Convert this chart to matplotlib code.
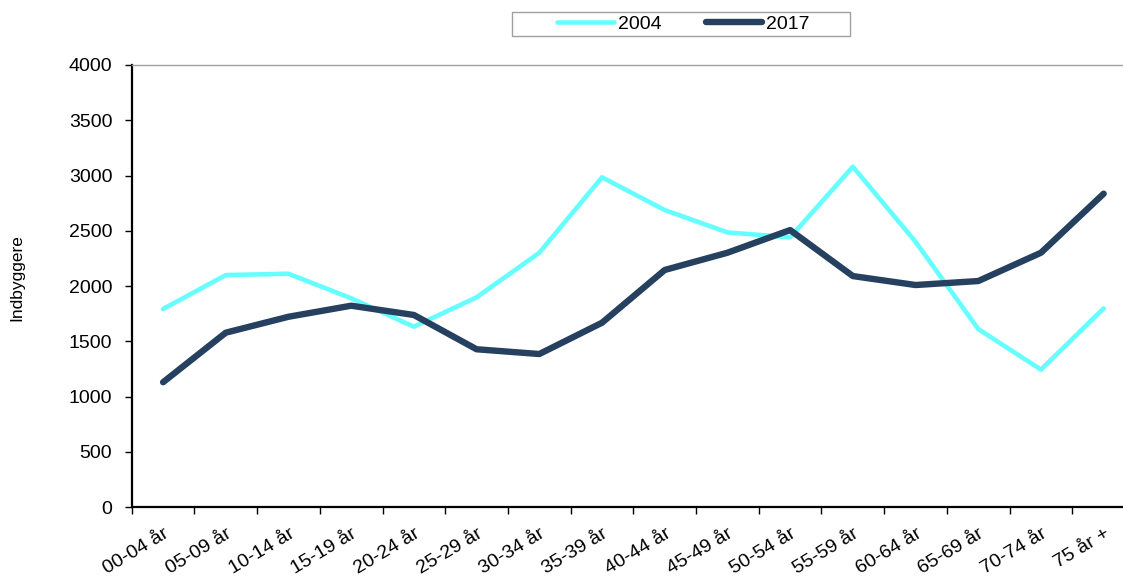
import matplotlib
matplotlib.use('Agg')
import matplotlib.pyplot as plt
from matplotlib.patches import Rectangle

plt.rcParams['font.family'] = ['Liberation Sans', 'DejaVu Sans']

ages = ['00-04 år', '05-09 år', '10-14 år', '15-19 år', '20-24 år', '25-29 år',
        '30-34 år', '35-39 år', '40-44 år', '45-49 år', '50-54 år', '55-59 år',
        '60-64 år', '65-69 år', '70-74 år', '75 år +']
y2004 = [1793, 2100, 2112, 1890, 1633, 1899, 2302, 2984, 2688, 2486,
         2441, 3080, 2401, 1612, 1245, 1799]
y2017 = [1131, 1579, 1723, 1823, 1739, 1429, 1386, 1669, 2146, 2302,
         2507, 2091, 2010, 2046, 2302, 2836]

fig = plt.figure(figsize=(11.23, 5.76), dpi=100)
# plot area runs a little past the right edge of the picture
ax = fig.add_axes([0.1173, 0.1193, 0.8934, 0.7679])

x = list(range(len(ages)))
ax.plot(x, y2004, color='#66FFFF', lw=3.3, solid_capstyle='round',
        solid_joinstyle='round', label='2004')
ax.plot(x, y2017, color='#26405F', lw=4.6, solid_capstyle='round',
        solid_joinstyle='round', label='2017')

ax.set_xlim(-0.5, len(ages) - 0.5)
ax.set_ylim(0, 4000)
ax.set_yticks(range(0, 4001, 500))
ax.tick_params(axis='y', labelsize=14, length=5, width=1, direction='out', pad=9)

# tick marks between categories, labels at category centres
ax.set_xticks([i - 0.5 for i in range(len(ages) + 1)])
ax.set_xticklabels([])
ax.tick_params(axis='x', which='major', length=5, width=1, direction='out')
ax.set_xticks(x, minor=True)
ax.set_xticklabels(ages, minor=True, rotation=31, ha='right', va='top',
                   rotation_mode='anchor', fontsize=14)
ax.tick_params(axis='x', which='minor', length=0, pad=13)

for s in ['top', 'right']:
    ax.spines[s].set_color('#A0A0A0')
    ax.spines[s].set_linewidth(1)
for s in ['left', 'bottom']:
    ax.spines[s].set_color('black')
    ax.spines[s].set_linewidth(1.6)

ax.set_ylabel('Indbyggere', fontsize=12.5)
ax.yaxis.set_label_coords(-0.107, 0.52)

# legend frame drawn separately so its padding can match
fig.patches.append(Rectangle((0.4559, 0.9375), 0.301, 0.0417, transform=fig.transFigure,
                             facecolor='white', edgecolor='#A0A0A0', lw=1))
leg = fig.legend(loc='center', bbox_to_anchor=(0.6086, 0.958), ncol=2,
                 fontsize=14, frameon=False, handlelength=2.9,
                 handletextpad=0.2, columnspacing=2.3, borderpad=0,
                 borderaxespad=0)

fig.savefig('out.png', dpi=100)
